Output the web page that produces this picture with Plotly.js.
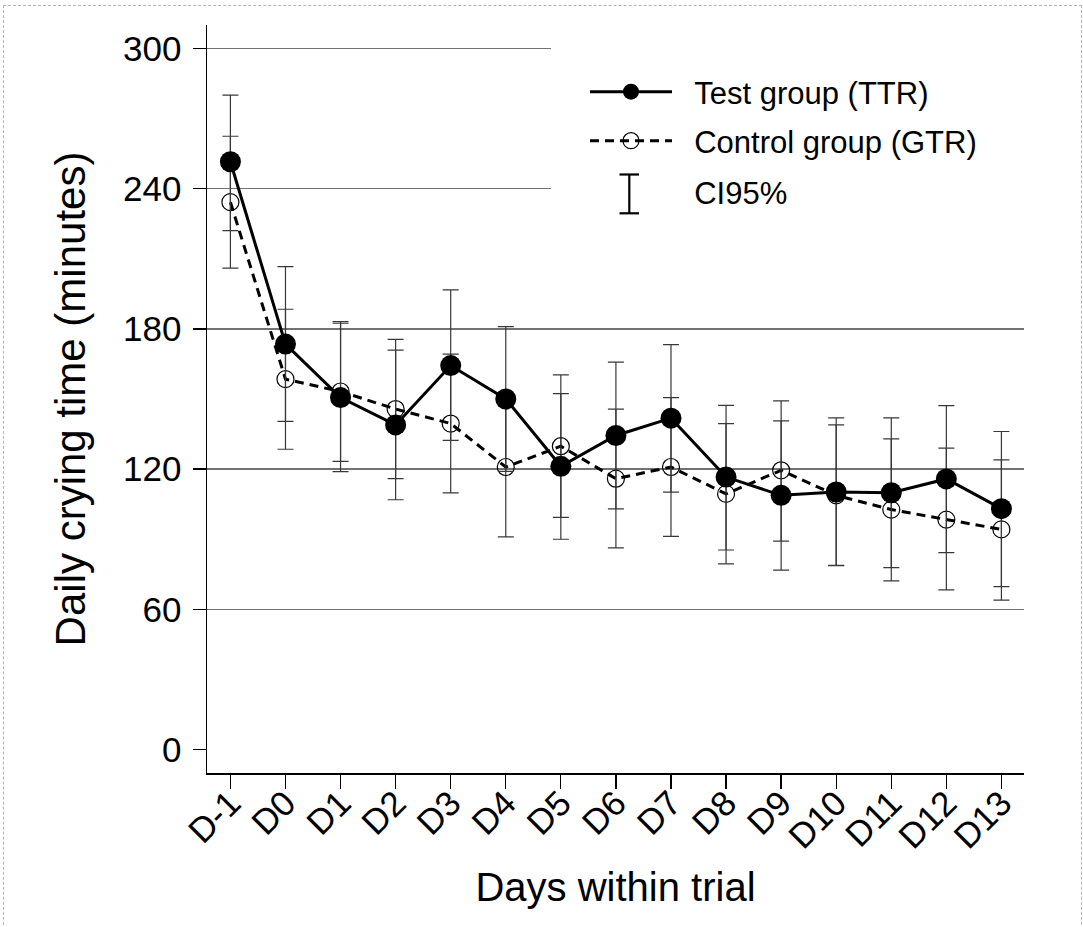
<!DOCTYPE html>
<html>
<head>
<meta charset="utf-8">
<script src="https://cdn.plot.ly/plotly-3.0.1.min.js"></script>
<style>
  html, body { margin: 0; padding: 0; background: #fff; overflow: hidden; }
  #chart { width: 1083px; height: 927px; }
  #frame { position: absolute; left: 3px; top: 5px; width: 1079px; height: 1000px;
           box-sizing: border-box; border: 1px dashed #b4b4b4; pointer-events: none; z-index: 10; }
</style>
</head>
<body>
<div id="chart"></div>
<div id="frame"></div>
<script>
// ---- data (minutes) ----
const days = ['D-1','D0','D1','D2','D3','D4','D5','D6','D7','D8','D9','D10','D11','D12','D13'];

const testMean = [251.5, 173.5, 150.6, 138.9, 164.3, 150.0, 121.2, 134.4, 141.8, 116.6, 108.8, 110.2, 109.9, 115.8, 103.1];
const testLow  = [222.0, 140.4, 118.9, 106.9, 132.3, 119.0,  90.0, 103.0, 110.2,  85.4,  76.8,  78.8,  77.9,  84.3,  69.7];
const testHigh = [280.0, 206.6, 182.4, 170.9, 196.7, 181.0, 152.3, 165.8, 173.3, 147.3, 140.6, 141.9, 141.9, 147.2, 136.1];

const ctrlMean = [234.2, 158.5, 153.2, 145.7, 139.5, 120.9, 129.8, 115.9, 120.9, 109.4, 119.5, 108.8, 102.7,  98.4,  94.2];
const ctrlLow  = [206.0, 128.5, 123.3, 115.9, 109.8,  91.0,  99.4,  86.3,  91.2,  79.5,  89.2,  78.7,  72.2,  68.3,  64.0];
const ctrlHigh = [262.4, 188.4, 183.1, 175.5, 169.2, 151.0, 160.3, 145.7, 150.6, 139.5, 149.2, 138.9, 132.9, 129.0, 124.0];

const yTicks = [0, 60, 120, 180, 240, 300];

const seriesNames = ['Test group (TTR)', 'Control group (GTR)', 'CI95%'];

const FONT = 'Liberation Sans, Arial, Helvetica, sans-serif';
const errColor = '#383838';
const GAP = '\u00A0\u00A0'; // spacing between legend key and text

function errSpec(mean, lo, hi) {
  return {
    type: 'data', symmetric: false,
    array: hi.map((h, i) => h - mean[i]),
    arrayminus: lo.map((l, i) => mean[i] - l),
    color: errColor, thickness: 1.2, width: 8
  };
}

const traces = [
  {
    x: days, y: ctrlMean, name: GAP + seriesNames[1], legend: 'legend2',
    type: 'scatter', mode: 'lines+markers',
    line: { color: '#000', width: 3, dash: '9px,6px' },
    marker: { symbol: 'circle-open', size: 17, color: '#000', line: { width: 1.2, color: '#000' } },
    error_y: errSpec(ctrlMean, ctrlLow, ctrlHigh),
    hoverinfo: 'x+y'
  },
  {
    x: days, y: testMean, name: GAP + seriesNames[0], legend: 'legend',
    type: 'scatter', mode: 'lines+markers',
    line: { color: '#000', width: 3 },
    marker: { symbol: 'circle', size: 21, color: '#000' },
    error_y: errSpec(testMean, testLow, testHigh),
    hoverinfo: 'x+y'
  },
  {
    x: [null], y: [null], name: GAP + seriesNames[2], legend: 'legend3',
    type: 'scatter', mode: 'lines',
    line: { color: 'rgba(0,0,0,0)', width: 0 },
    hoverinfo: 'skip'
  }
];

// plot area in pixels: left 207, right 1024, top 25, bottom 773
const L = 207, R = 1024, T = 25, B = 773;
const px2x = p => (p - L) / (R - L);
const px2y = p => (B - p) / (B - T);

const legFont = { family: FONT, size: 31, color: '#000' };
const legCommon = { font: legFont, bgcolor: 'rgba(0,0,0,0)', borderwidth: 0,
                    xanchor: 'left', yanchor: 'middle', itemwidth: 82, traceorder: 'normal' };

const layout = {
  width: 1083, height: 927,
  margin: { l: L, r: 1083 - R, t: T, b: 927 - B, pad: 0 },
  paper_bgcolor: '#fff', plot_bgcolor: '#fff',
  font: { family: FONT, color: '#000' },
  showlegend: true,
  legend:  Object.assign({}, legCommon, { x: px2x(585), y: px2y(92) }),
  legend2: Object.assign({}, legCommon, { x: px2x(585), y: px2y(141) }),
  legend3: Object.assign({}, legCommon, { x: px2x(585), y: px2y(192) }),
  xaxis: {
    type: 'category', range: [-0.425, 14.41],
    showline: true, linecolor: '#000', linewidth: 1.5,
    ticks: 'outside', ticklen: 14, tickwidth: 1.3, tickcolor: '#000',
    tickangle: -45, tickfont: { family: FONT, size: 35, color: '#000' },
    ticklabelstandoff: -20,
    showgrid: false, zeroline: false, automargin: false,
    title: { text: 'Days within trial', font: { family: FONT, size: 40, color: '#000' }, standoff: 18 }
  },
  yaxis: {
    range: [-10, 310], tickvals: yTicks, ticktext: yTicks.map(String),
    showline: true, linecolor: '#000', linewidth: 1.5,
    ticks: 'outside', ticklen: 13, tickwidth: 1.3, tickcolor: '#000',
    tickfont: { family: FONT, size: 35, color: '#000' },
    ticklabelstandoff: 4,
    showgrid: true, gridcolor: '#727272', gridwidth: 1.5,
    zeroline: true, zerolinecolor: '#fff', zerolinewidth: 1,
    automargin: false,
    title: { text: 'Daily crying time (minutes)', font: { family: FONT, size: 42, color: '#000' }, standoff: 24 }
  },
  shapes: [
    // white legend box covering gridlines
    { type: 'rect', xref: 'paper', yref: 'paper', layer: 'above',
      x0: px2x(551), x1: 1.0, y0: px2y(232), y1: 1.0,
      fillcolor: '#fff', line: { width: 0 } },
    // CI95% legend key (I-beam)
    { type: 'line', xref: 'paper', yref: 'paper', layer: 'above',
      x0: px2x(629.3), x1: px2x(629.3), y0: px2y(174.5), y1: px2y(213.3),
      line: { color: '#000', width: 2.2 } },
    { type: 'line', xref: 'paper', yref: 'paper', layer: 'above',
      x0: px2x(619.5), x1: px2x(639), y0: px2y(174.5), y1: px2y(174.5),
      line: { color: '#000', width: 2.2 } },
    { type: 'line', xref: 'paper', yref: 'paper', layer: 'above',
      x0: px2x(619.5), x1: px2x(639), y0: px2y(213.3), y1: px2y(213.3),
      line: { color: '#000', width: 2.2 } }
  ]
};

Plotly.newPlot('chart', traces, layout, { displayModeBar: false, staticPlot: true });
</script>
</body>
</html>
